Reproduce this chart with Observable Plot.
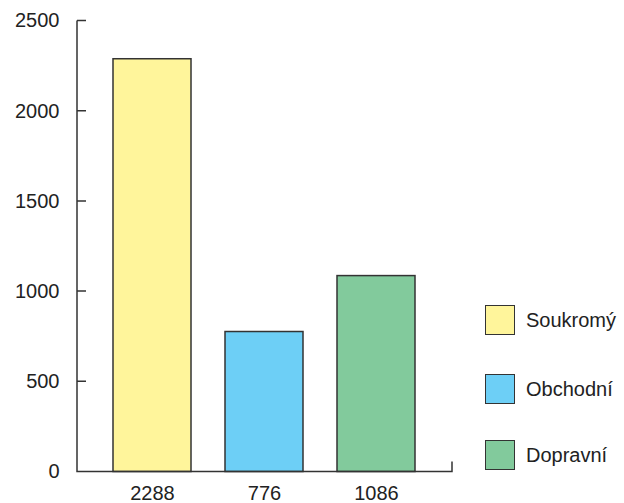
<!DOCTYPE html>
<html>
<head>
<meta charset="utf-8">
<script src="https://cdn.jsdelivr.net/npm/d3@7"></script>
<script src="https://cdn.jsdelivr.net/npm/@observablehq/plot@0.6"></script>
<style>
  html, body { margin: 0; padding: 0; background: #fff; }
  #wrap { position: relative; width: 624px; height: 503px; font-family: "Liberation Sans", Arial, sans-serif; }
  .leg { position: absolute; left: 485px; display: flex; align-items: center; font-size: 20px; color: #222; }
  .sw { width: 28px; height: 28px; border: 1.5px solid #333; margin-right: 11px; }
  svg text { font-size: 20px; }
</style>
</head>
<body>
<div id="wrap"></div>
<script>
const categories = ["Soukromý", "Obchodní", "Dopravní"];
const values = [2288, 776, 1086];
const colors = ["#FFF59B", "#6DCFF6", "#82CA9C"];
const yTicks = [0, 500, 1000, 1500, 2000, 2500];

const data = categories.map((c, i) => ({name: c, value: values[i]}));

const axisLines = (index, scales, vals, dim) => {
  const ns = "http://www.w3.org/2000/svg";
  const g = document.createElementNS(ns, "g");
  const y0 = scales.y(0);
  const yTop = scales.y(2500);
  const x0 = dim.marginLeft, x1 = dim.width - dim.marginRight;
  let d = `M${x1},${y0 - 10}V${y0}H${x0}V${yTop}`;
  for (const t of yTicks) d += `M${x0},${scales.y(t)}h9`;
  const p = document.createElementNS(ns, "path");
  p.setAttribute("d", d);
  p.setAttribute("fill", "none");
  p.setAttribute("stroke", "#333");
  p.setAttribute("stroke-width", "1.5");
  g.appendChild(p);
  return g;
};

const chart = Plot.plot({
  width: 624,
  height: 503,
  marginLeft: 77,
  marginRight: 172,
  marginTop: 20.5,
  marginBottom: 31.5,
  style: {fontFamily: "Liberation Sans, Arial, sans-serif", fontSize: "20px", color: "#222", background: "#fff"},
  x: {domain: categories, paddingInner: 0.3, paddingOuter: 0.317},
  y: {domain: [0, 2500]},
  color: {domain: categories, range: colors},
  marks: [
    Plot.barY(data, {x: "name", y: "value", fill: "name", stroke: "#333", strokeWidth: 1.5}),
    Plot.axisY({ticks: yTicks, tickSize: 0, tickPadding: 18, label: null, fontSize: 20, fill: "#222", tickFormat: d3.format("d")}),
    Plot.axisX({tickSize: 0, tickPadding: 14, label: null, fontSize: 20, fill: "#222", tickFormat: (d) => String(values[categories.indexOf(d)])}),
    axisLines
  ]
});

const wrap = document.getElementById("wrap");
wrap.appendChild(chart);
const tops = [305, 374, 440];
categories.forEach((c, i) => {
  const d = document.createElement("div");
  d.className = "leg";
  d.style.top = tops[i] + "px";
  d.innerHTML = `<div class="sw" style="background:${colors[i]}"></div><span>${c}</span>`;
  wrap.appendChild(d);
});
</script>
</body>
</html>
